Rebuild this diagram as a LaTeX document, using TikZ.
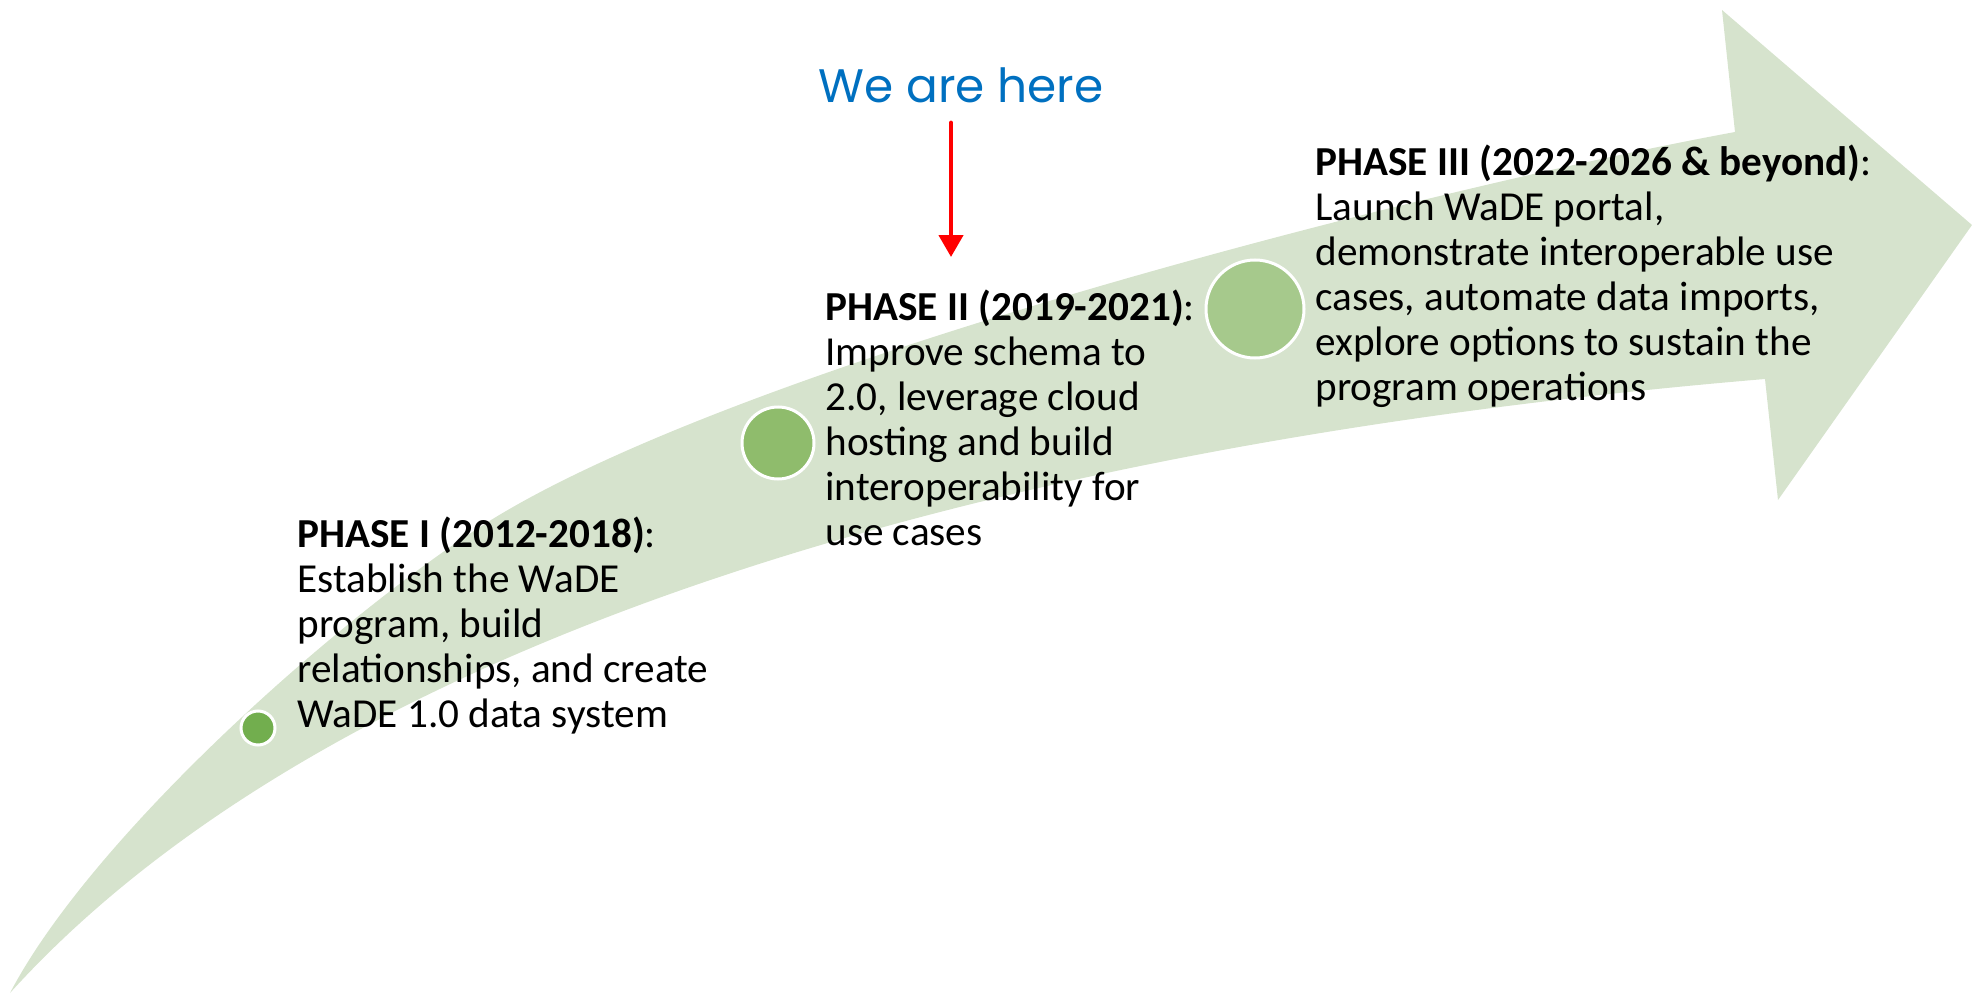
\documentclass[tikz,border=0pt]{standalone}
\usepackage{fontspec}
\setmainfont{Carlito}
\newfontfamily\herefont{Poppins}
\usetikzlibrary{arrows.meta}

\definecolor{bandgreen}{RGB}{214,227,205}
\definecolor{dotone}{RGB}{114,174,78}
\definecolor{dottwo}{RGB}{143,188,108}
\definecolor{dotthree}{RGB}{166,201,140}
\definecolor{hereblue}{RGB}{0,112,192}

\begin{document}
\begin{tikzpicture}[x=0.5pt, y=-0.5pt,
		phase/.style={anchor=base west, align=left, inner sep=0pt, font=\fontsize{20.6}{22.5}\selectfont},
		dot/.style={circle, draw=white, line width=1.5pt, inner sep=0pt},
		pointer/.style={draw=red, line width=2.25pt, line cap=round, -{Triangle[length=11pt,width=12pt]}}]
	\useasboundingbox (0,0) rectangle (1972,995);
	% curved band with its arrow head
	\fill[bandgreen] (10,993) .. controls (90,840) and (330,624) .. (480,527)
		.. controls (730,365) and (1435,187) .. (1735,132)
		-- (1722,10) -- (1972,225) -- (1778,500) -- (1765,379)
		.. controls (921,450) and (307,665) .. (10,993) -- cycle;
	% milestones
	\node[dot, fill=dotone, minimum size=17pt] (one) at (258,728) {};
	\node[dot, fill=dottwo, minimum size=36pt] (two) at (778,443) {};
	\node[dot, fill=dotthree, minimum size=49pt] (three) at (1255,309) {};
	% base is the last line
	\node[phase] (phaseone) at (297,727) {\textbf{PHASE I (2012-2018)}:\\Establish the WaDE\\program, build\\relationships, and create\\WaDE 1.0 data system};
	\node[phase] (phasetwo) at (825,545) {\textbf{PHASE II (2019-2021)}:\\Improve schema to\\2.0, leverage cloud\\hosting and build\\interoperability for\\use cases};
	\node[phase] (phasethree) at (1315,400) {\textbf{PHASE III (2022-2026 \& beyond)}:\\Launch WaDE portal,\\demonstrate interoperable use\\cases, automate data imports,\\explore options to sustain the\\program operations};
	% we are here
	\node[anchor=base, inner sep=0pt, text=hereblue, font=\herefont\fontsize{23.5}{28}\selectfont] (here) at (961,103) {We are here};
	\coordinate (tip) at (951,257);
	\draw[pointer, shorten <=9.5pt] (here.south -| tip) -- (tip);
\end{tikzpicture}
\end{document}
